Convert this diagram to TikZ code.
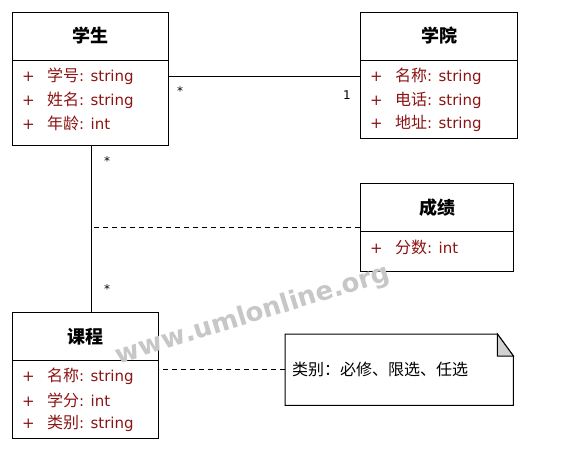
\documentclass[tikz,border=0pt]{standalone}
\usepackage{fontspec}
\setmainfont{DejaVu Sans}
\newfontfamily\cjk{Noto Sans CJK SC}
\usetikzlibrary{calc,decorations.text}
\definecolor{attrc}{RGB}{140,20,20}
\begin{document}
\begin{tikzpicture}[x=1pt,y=-1pt,
  box/.style={draw=black,line width=1pt,anchor=north west,inner sep=0pt},
  ctitle/.style={inner sep=0pt,font=\cjk\bfseries\fontsize{18}{18}\selectfont},
  attr/.style={anchor=west,inner sep=0pt,text=attrc,font=\fontsize{15}{15}\selectfont},
  mult/.style={inner sep=0pt,font=\fontsize{12}{12}\selectfont},
  conn/.style={draw=black,line width=1pt},
  dconn/.style={draw=black,line width=1pt,dash pattern=on 5pt off 4pt}]
\useasboundingbox (0,0) rectangle (570,450);
\fill[white] (0,0) rectangle (570,450);
\newcommand\att[2]{\makebox[25pt][l]{+}{\cjk\fontsize{16}{16}\selectfont #1}: #2}
% 学生
\node[box,minimum width=156pt,minimum height=133pt] (xs) at (12,12) {};
\draw[line width=1pt] ([yshift=-48pt]xs.north west) -- ([yshift=-48pt]xs.north east);
\node[ctitle] (xst) at ([yshift=-24pt]xs.north) {学生};
\node[attr] (xs1) at ($(xs.north west)+(10,64)$) {\att{学号}{string}};
\node[attr] (xs2) at ($(xs.north west)+(10,88)$) {\att{姓名}{string}};
\node[attr] (xs3) at ($(xs.north west)+(10,111)$) {\att{年龄}{int}};
% 学院
\node[box,minimum width=157pt,minimum height=126pt] (xy) at (360,12) {};
\draw[line width=1pt] ([yshift=-48pt]xy.north west) -- ([yshift=-48pt]xy.north east);
\node[ctitle] (xyt) at ([yshift=-24pt]xy.north) {学院};
\node[attr] (xy1) at ($(xy.north west)+(10,64)$) {\att{名称}{string}};
\node[attr] (xy2) at ($(xy.north west)+(10,88)$) {\att{电话}{string}};
\node[attr] (xy3) at ($(xy.north west)+(10,111)$) {\att{地址}{string}};
% 成绩
\node[box,minimum width=153pt,minimum height=88pt] (cj) at (360,183) {};
\draw[line width=1pt] ([yshift=-48pt]cj.north west) -- ([yshift=-48pt]cj.north east);
\node[ctitle] (cjt) at ([yshift=-25pt]cj.north) {成绩};
\node[attr] (cj1) at ($(cj.north west)+(10,64)$) {\att{分数}{int}};
% 课程
\node[box,minimum width=146pt,minimum height=126pt] (kc) at (12,312) {};
\draw[line width=1pt] ([yshift=-48pt]kc.north west) -- ([yshift=-48pt]kc.north east);
\node[ctitle] (kct) at ([yshift=-25pt]kc.north) {课程};
\node[attr] (kc1) at ($(kc.north west)+(10,64)$) {\att{名称}{string}};
\node[attr] (kc2) at ($(kc.north west)+(10,88)$) {\att{学分}{int}};
\node[attr] (kc3) at ($(kc.north west)+(10,111)$) {\att{类别}{string}};
% note
\node[inner sep=0pt,minimum width=228pt,minimum height=71pt,anchor=north west] (note) at (285,334) {};
\draw[line width=1pt,fill=white] (note.north west) -- ([xshift=-16pt]note.north east) -- ([yshift=-22pt]note.north east) -- (note.south east) -- (note.south west) -- cycle;
\draw[line width=1pt,fill=black!18] ([xshift=-16pt]note.north east) -- ([xshift=-16pt,yshift=-22pt]note.north east) -- ([yshift=-22pt]note.north east) -- cycle;
\node[anchor=west,inner sep=0pt,font=\cjk\fontsize{16}{16}\selectfont] (notet) at ([xshift=7pt]note.west) {类别：必修、限选、任选};
% connectors
\coordinate (a1) at ($(xs.north east)+(0,64)$);
\draw[conn] (a1) -- (a1 -| xy.west);
\draw[conn] ([xshift=1pt]xs.south) -- ([xshift=1pt]xs.south |- kc.north);
\draw[dconn] (cj.west) -- ([xshift=1pt]cj.west -| xs.south);
\draw[dconn] (note.west) -- (note.west -| kc.east);
% multiplicities
\node[mult] (m1) at (180,91) {*};
\node[mult] (m2) at (347,95) {1};
\node[mult] (m3) at (107,161) {*};
\node[mult] (m4) at (107,289) {*};
% watermark
\path[decorate,decoration={text along path,text align=center,
  text={|\bfseries\fontsize{26}{26}\selectfont\color{black!22}|www.umlonline.org}}]
  (112,366) -- (398,278);
\end{tikzpicture}
\end{document}
